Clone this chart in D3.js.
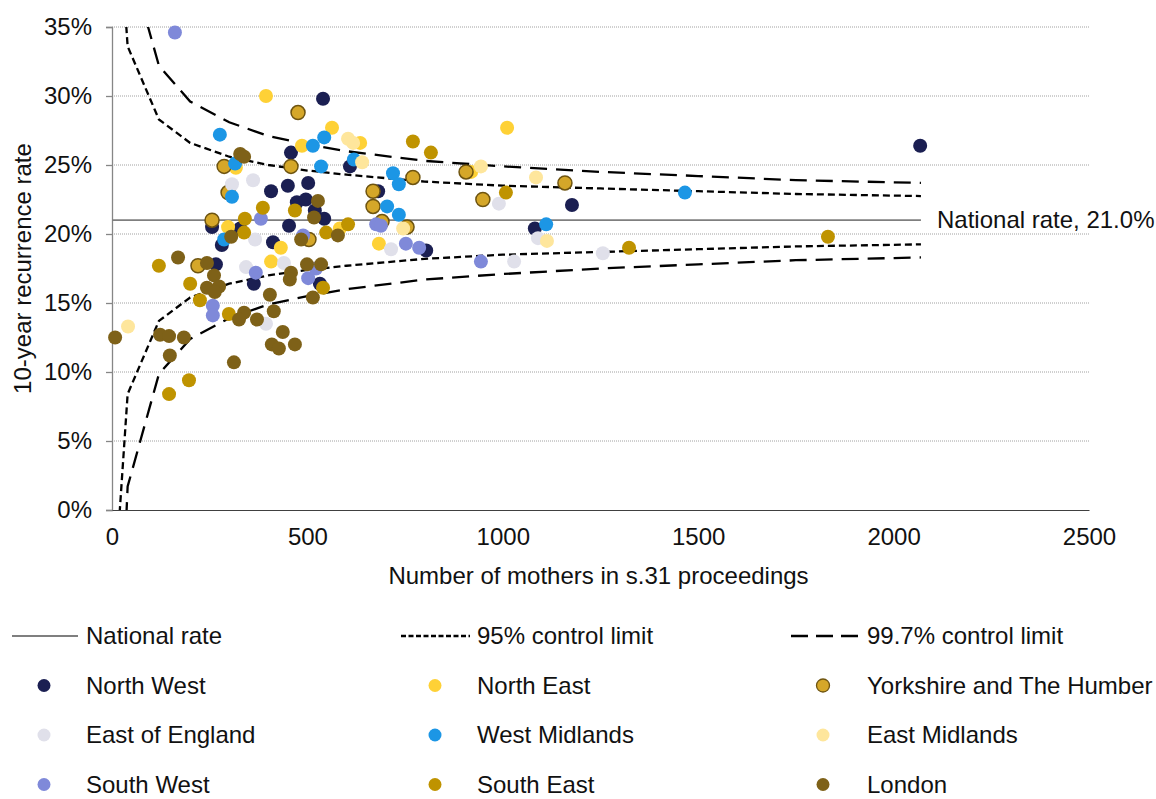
<!DOCTYPE html>
<html>
<head>
<meta charset="utf-8">
<script src="https://cdn.jsdelivr.net/npm/d3@7"></script>
<style>
  body { margin: 0; background: #fff; }
  svg { display: block; }
  text { font-family: "Liberation Sans", Arial, sans-serif; fill: #111; }
</style>
</head>
<body>
<svg id="chart" width="1156" height="799"></svg>
<script>
// Local authorities: [mothers in s.31 proceedings, 10-year recurrence rate %]
const northWest = [[540,29.8],[458,25.9],[609,24.9],[407,23.1],[450,23.5],[502,23.7],[473,22.3],[496,22.5],
  [519,21.7],[543,21.1],[256,20.5],[328,20.4],[453,20.6],[281,19.2],[412,19.4],[266,17.8],[363,16.4],
  [532,16.4],[681,23.1],[804,18.8],[1177,22.1],[1082,20.4],[2068,26.4]];
const northEast = [[394,30.0],[563,27.7],[635,26.6],[486,26.4],[317,24.8],[297,20.5],[432,19.0],[583,20.4],
  [407,18.0],[1011,27.7],[919,24.5],[683,19.3]];
const yorkshire = [[476,28.8],[287,24.9],[458,24.9],[297,23.0],[256,21.0],[504,19.6],[220,17.7],[770,24.1],
  [906,24.5],[668,23.1],[668,22.0],[691,20.9],[755,20.5],[949,22.5],[1159,23.7]];
const eastOfEngland = [[307,23.6],[361,23.9],[366,19.6],[343,17.6],[440,17.9],[394,13.5],[714,18.9],
  [990,22.2],[1090,19.7],[1029,18.0],[1256,18.6]];
const westMidlands = [[276,27.2],[543,27.0],[514,26.4],[315,25.1],[535,24.9],[619,25.4],[307,22.7],[287,19.6],
  [719,24.4],[734,23.6],[704,22.0],[734,21.4],[1111,20.7],[1466,23.0]];
const eastMidlands = [[604,26.9],[617,26.6],[640,25.2],[41,13.3],[944,24.9],[745,20.4],[1085,24.1],[1113,19.5]];
const southWest = [[161,34.6],[381,21.1],[489,19.9],[368,17.2],[502,16.8],[522,17.5],[258,14.8],[258,14.1],
  [676,20.7],[688,20.6],[752,19.3],[786,19.0],[944,18.0]];
const southEast = [[386,21.9],[468,21.7],[340,21.1],[338,20.1],[548,20.1],[604,20.7],[120,17.7],[200,16.4],
  [225,15.2],[540,16.1],[299,14.2],[146,8.4],[197,9.4],[770,26.7],[816,25.9],[1008,23.0],[1323,19.0],[1832,19.8]];
const london = [[328,25.8],[338,25.6],[527,22.4],[517,21.2],[305,19.8],[484,19.6],[578,19.9],[169,18.3],
  [243,17.9],[261,17.0],[243,16.1],[274,16.2],[263,15.8],[458,17.2],[455,16.7],[499,17.8],[535,17.8],
  [514,15.4],[404,15.6],[414,14.4],[338,14.3],[325,13.8],[371,13.8],[437,12.9],[409,12.0],[427,11.7],
  [468,12.0],[312,10.7],[8,12.5],[123,12.7],[146,12.6],[184,12.5],[148,11.2]];

const regionNames = ["North West","North East","Yorkshire and The Humber","East of England",
  "West Midlands","East Midlands","South West","South East","London"];
const regionData = [northWest, northEast, yorkshire, eastOfEngland, westMidlands, eastMidlands,
  southWest, southEast, london];
const regionFill = ["#1b1f52","#fed136","#d5a729","#e0e0ea","#1c96e5","#fee69c","#7f89d9","#bf9300","#7e6118"];
const regionStroke = [null,null,"#6e5410",null,null,null,null,null,null];

// National rate and funnel control limits (%), by number of mothers
const nationalRate = 21.0;
const limitN   = [10, 40, 120, 200, 300, 400, 500, 600, 800, 1000, 1250, 1500, 1750, 2070];
const upper95  = [46.2, 33.6, 28.3, 26.6, 25.6, 25.0, 24.6, 24.3, 23.8, 23.5, 23.3, 23.1, 22.9, 22.75];
const lower95  = [-4.2, 8.4, 13.7, 15.4, 16.4, 17.0, 17.4, 17.7, 18.2, 18.5, 18.7, 18.9, 19.1, 19.25];
const upper997 = [59.6, 40.3, 32.2, 29.6, 28.1, 27.1, 26.5, 26.0, 25.3, 24.9, 24.5, 24.2, 23.9, 23.7];
const lower997 = [-17.6, 1.7, 9.85, 12.4, 13.9, 14.9, 15.5, 16.0, 16.7, 17.1, 17.5, 17.8, 18.1, 18.3];

const yTicks = [0, 5, 10, 15, 20, 25, 30, 35];
const xTicks = [0, 500, 1000, 1500, 2000, 2500];

const svg = d3.select("#chart");
const FS = 24;
const plotLeft = 112, plotRight = 1089, plotTop = 27, plotBottom = 510;

const x = d3.scaleLinear().domain([0, 2500]).range([plotLeft, plotRight]);
const y = d3.scaleLinear().domain([0, 35]).range([plotBottom, plotTop]);

svg.append("defs").append("clipPath").attr("id", "plotClip")
  .append("rect").attr("x", plotLeft).attr("y", plotTop)
  .attr("width", plotRight - plotLeft).attr("height", plotBottom - plotTop);

// horizontal gridlines
svg.append("g").selectAll("line").data(yTicks.filter(d => d > 0)).join("line")
  .attr("x1", plotLeft).attr("x2", plotRight)
  .attr("y1", d => y(d)).attr("y2", d => y(d))
  .attr("stroke", "#a0a0a0").attr("stroke-width", 1).attr("stroke-dasharray", "1,1");

// y axis
const yAxis = svg.append("g").attr("transform", `translate(${plotLeft},0)`)
  .call(d3.axisLeft(y).tickValues(yTicks).tickFormat(d => d + "%").tickSize(6).tickPadding(14));
yAxis.select(".domain").attr("stroke", "#868686").attr("stroke-width", 1.3);
yAxis.selectAll(".tick line").attr("stroke", "#868686").attr("stroke-width", 1.3);
yAxis.selectAll("text").attr("font-size", FS).attr("fill", "#111")
  .attr("font-family", '"Liberation Sans", Arial, sans-serif');

// x axis
const xAxis = svg.append("g").attr("transform", `translate(0,${plotBottom})`)
  .call(d3.axisBottom(x).tickValues(xTicks).tickFormat(d3.format("d")).tickSize(0).tickPadding(18));
xAxis.select(".domain").attr("stroke", "#404040").attr("stroke-width", 1.2);
xAxis.selectAll("text").attr("font-size", FS).attr("fill", "#111")
  .attr("font-family", '"Liberation Sans", Arial, sans-serif');

// axis titles
svg.append("text").attr("x", (plotLeft + plotRight) / 2 - 2).attr("y", 584)
  .attr("text-anchor", "middle").attr("font-size", FS)
  .text("Number of mothers in s.31 proceedings");
svg.append("text").attr("transform", `translate(31,${(plotTop + plotBottom) / 2}) rotate(-90)`)
  .attr("text-anchor", "middle").attr("font-size", FS)
  .text("10-year recurrence rate");

// national rate and control limits
const plot = svg.append("g").attr("clip-path", "url(#plotClip)");
plot.append("line")
  .attr("x1", x(0)).attr("x2", x(limitN[limitN.length - 1]))
  .attr("y1", y(nationalRate)).attr("y2", y(nationalRate))
  .attr("stroke", "#7f7f7f").attr("stroke-width", 1.8);

const limitLine = d3.line().x((d, i) => x(limitN[i])).y(d => y(d));
[[upper95, "7,4"], [lower95, "7,4"], [upper997, "17,9"], [lower997, "17,9"]].forEach(([vals, dash]) => {
  plot.append("path").datum(vals)
    .attr("d", limitLine)
    .attr("fill", "none").attr("stroke", "#000").attr("stroke-width", 2.3)
    .attr("stroke-dasharray", dash);
});

svg.append("text").attr("x", 937).attr("y", y(nationalRate) + 8).attr("font-size", FS)
  .text(`National rate, ${nationalRate.toFixed(1)}%`);

// local authority points, one series per region
regionData.forEach((pts, i) => {
  svg.append("g").selectAll("circle").data(pts).join("circle")
    .attr("cx", d => x(d[0])).attr("cy", d => y(d[1])).attr("r", 7)
    .attr("fill", regionFill[i])
    .attr("stroke", regionStroke[i] || "none")
    .attr("stroke-width", regionStroke[i] ? 1.5 : 0);
});

// legend
const legend = svg.append("g");
const colText = [86, 477, 867];
const colMark = [44, 435, 823];
const row0 = 636, rowGap = 49.5;
const lineItems = [
  { label: "National rate", dash: null, color: "#555", width: 1.3, x1: 12, x2: 78 },
  { label: "95% control limit", dash: "5,2.5", color: "#000", width: 2.3, x1: 401, x2: 470 },
  { label: "99.7% control limit", dash: "17,8", color: "#000", width: 2.3, x1: 791, x2: 860 }
];
lineItems.forEach((it, j) => {
  legend.append("line").attr("x1", it.x1).attr("x2", it.x2).attr("y1", row0).attr("y2", row0)
    .attr("stroke", it.color).attr("stroke-width", it.width)
    .attr("stroke-dasharray", it.dash);
  legend.append("text").attr("x", colText[j]).attr("y", row0 + 8).attr("font-size", FS).text(it.label);
});
regionNames.forEach((name, i) => {
  const col = i % 3, row = Math.floor(i / 3) + 1;
  const cy = row0 + row * rowGap;
  legend.append("circle").attr("cx", colMark[col]).attr("cy", cy).attr("r", 6.5)
    .attr("fill", regionFill[i])
    .attr("stroke", regionStroke[i] || "none").attr("stroke-width", regionStroke[i] ? 1.3 : 0);
  legend.append("text").attr("x", colText[col]).attr("y", cy + 8).attr("font-size", FS).text(name);
});
</script>
</body>
</html>
